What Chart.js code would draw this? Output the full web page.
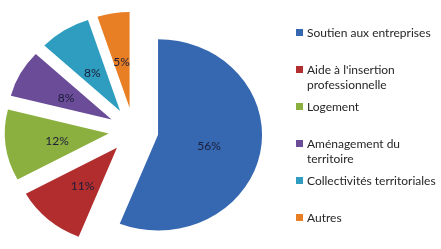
<!DOCTYPE html>
<html>
<head>
<meta charset="utf-8">
<script src="https://cdn.jsdelivr.net/npm/chart.js@4"></script>
<style>
  html, body { margin: 0; padding: 0; background: #fff; }
  #wrap { position: relative; width: 441px; height: 249px; overflow: hidden; }
  #c { position: absolute; left: 0; top: 0; }
  #legend { position: absolute; left: 296px; top: 13.5px; width: 145px; font-family: Lato, "Open Sans", sans-serif; font-size: 12px; color: #262626; }
  .item { height: 37px; display: flex; align-items: flex-start; padding-top: 11px; box-sizing: border-box; }
  .sw { width: 7px; height: 7px; flex: 0 0 7px; margin-top: 4px; margin-right: 4px; }
  .txt { line-height: 15px; max-width: 136px; }
</style>
</head>
<body>
<div id="wrap">
  <canvas id="c" width="441" height="249"></canvas>
  <div id="legend"></div>
</div>
<script>
const categories = ["Soutien aux entreprises", "Aide à l'insertion professionnelle", "Logement", "Aménagement du territoire", "Collectivités territoriales", "Autres"];
const shares = [56, 11, 12, 8, 8, 5];
const percentLabels = ["56%", "11%", "12%", "8%", "8%", "5%"];
const colors = ["#3568B0", "#B22E2E", "#8CB040", "#6A4C98", "#2E9DBF", "#E97F24"];

const GAP = 25;      // explode distance in px
const TILT = 0.92;   // vertical squash of the pie (perspective look)

const legend = document.getElementById('legend');
categories.forEach((name, i) => {
  const it = document.createElement('div');
  it.className = 'item';
  const sw = document.createElement('div');
  sw.className = 'sw';
  sw.style.background = colors[i];
  const tx = document.createElement('div');
  tx.className = 'txt';
  tx.textContent = name;
  it.appendChild(sw); it.appendChild(tx);
  legend.appendChild(it);
});

// Draws the library's arc elements exploded by GAP and with a slight tilt.
const explodePlugin = {
  id: 'explode',
  beforeDatasetsDraw(chart) {
    const ctx = chart.ctx;
    const meta = chart.getDatasetMeta(0);
    const cy = meta.data[0].y;
    ctx.save();
    ctx.translate(0, cy);
    ctx.scale(1, TILT);
    ctx.translate(0, -cy);
    meta.data.forEach(arc => {
      const half = (arc.startAngle + arc.endAngle) / 2;
      ctx.save();
      ctx.translate(Math.cos(half) * GAP, Math.sin(half) * GAP);
      arc.draw(ctx);
      ctx.restore();
    });
    ctx.restore();

    ctx.save();
    ctx.font = '12px Lato, "Open Sans", sans-serif';
    ctx.fillStyle = '#1C1C38';
    ctx.textAlign = 'center';
    ctx.textBaseline = 'middle';
    meta.data.forEach((arc, i) => {
      const half = (arc.startAngle + arc.endAngle) / 2;
      const d = GAP + arc.outerRadius / 2;
      ctx.fillText(percentLabels[i], arc.x + Math.cos(half) * d, arc.y + Math.sin(half) * d * TILT + 2);
    });
    ctx.restore();
    return false;
  }
};

new Chart(document.getElementById('c'), {
  type: 'pie',
  data: {
    labels: categories,
    datasets: [{
      data: shares,
      backgroundColor: colors,
      borderWidth: 0
    }]
  },
  options: {
    responsive: false,
    animation: false,
    radius: 104,
    layout: { padding: { left: 0, right: 174, top: 12, bottom: 0 } },
    plugins: { legend: { display: false }, tooltip: { enabled: false } }
  },
  plugins: [explodePlugin]
});
</script>
</body>
</html>
